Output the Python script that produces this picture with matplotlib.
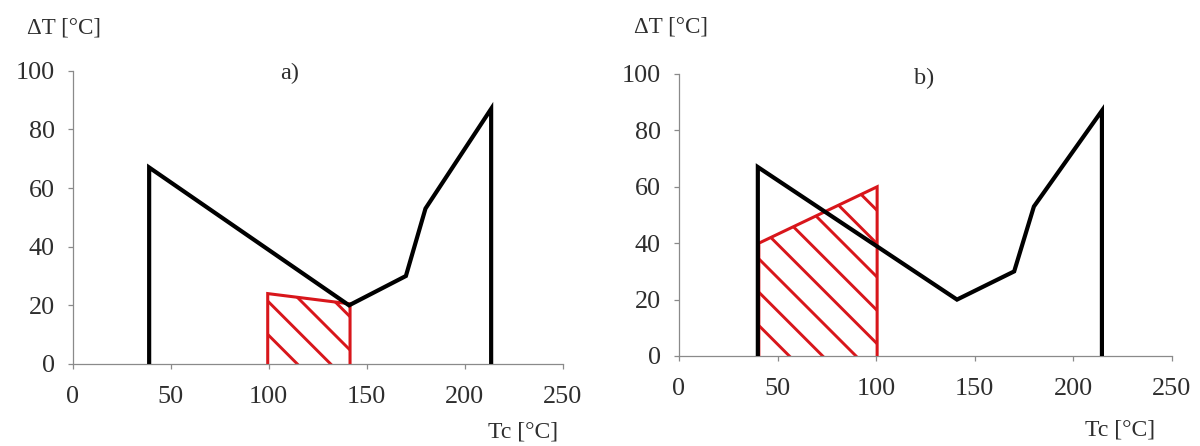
import matplotlib
matplotlib.use("Agg")
import matplotlib.pyplot as plt

# ---- data ----
tc_curve_a = [39, 39, 141, 170, 180, 213.5, 213.5]
dt_curve_a = [0, 67, 20, 30, 53, 87, 0]
tc_curve_b = [40, 40, 141, 170, 180, 214.5, 214.5]
dt_curve_b = [0, 67, 20, 30, 53, 87, 0]

tc_red_a = [99.5, 99.5, 141.5, 141.5]
dt_red_a = [0, 24, 20.5, 0]
tc_red_b = [40.5, 40.5, 100.5, 100.5]
dt_red_b = [0, 40, 60, 0]

x_ticks = [0, 50, 100, 150, 200, 250]
y_ticks = [0, 20, 40, 60, 80, 100]
panel_titles = ["a)", "b)"]
y_label = "ΔT [°C]"
x_label = "Tc [°C]"

# ---- style ----
FONT = "Liberation Serif"
plt.rcParams["font.family"] = [FONT, "DejaVu Serif"]
plt.rcParams["hatch.linewidth"] = 1.05
RED = "#d8161b"
TXT = "#2e2e2e"
AXC = "#8a8a8a"

fig = plt.figure(figsize=(6, 2.23), dpi=200)
ax1 = fig.add_axes([0.0606, 0.1839, 0.4083, 0.6576])
ax2 = fig.add_axes([0.5658, 0.2018, 0.4108, 0.6323])

def style(ax):
    ax.set_xlim(0, 250)
    ax.set_ylim(0, 100)
    ax.set_xticks(x_ticks)
    ax.set_yticks(y_ticks)
    for s in ("top", "right"):
        ax.spines[s].set_visible(False)
    for s in ("left", "bottom"):
        ax.spines[s].set_color(AXC)
        ax.spines[s].set_linewidth(0.45)
    ax.tick_params(axis="both", direction="out", length=1.9, width=0.45,
                   color=AXC, labelcolor=TXT, labelsize=9.4)
    ax.tick_params(axis="y", pad=4.6)
    ax.tick_params(axis="x", pad=6.2)
    ax.patch.set_alpha(0)

for ax, tx, ty, rx, ry in ((ax1, tc_curve_a, dt_curve_a, tc_red_a, dt_red_a),
                           (ax2, tc_curve_b, dt_curve_b, tc_red_b, dt_red_b)):
    style(ax)
    ax.fill(rx, ry, facecolor="none", edgecolor=RED, hatch="\\\\", linewidth=0, zorder=2)
    ax.plot(rx, ry, color=RED, lw=1.1, solid_joinstyle="miter",
            solid_capstyle="butt", zorder=3, clip_on=False)
    ax.plot(tx, ty, color="black", lw=1.5, solid_joinstyle="miter",
            solid_capstyle="butt", zorder=4, clip_on=False)

# panel titles
fig.text(0.2417, 0.836, panel_titles[0], ha="center", va="center", fontsize=8.8, color=TXT)
fig.text(0.7700, 0.823, panel_titles[1], ha="center", va="center", fontsize=8.8, color=TXT)

# axis labels
fig.text(0.0225, 0.937, y_label, ha="left", va="center", fontsize=8.3, color=TXT)
fig.text(0.5283, 0.939, y_label, ha="left", va="center", fontsize=8.3, color=TXT)
fig.text(0.465, 0.031, x_label, ha="right", va="center", fontsize=8.5, color=TXT)
fig.text(0.9625, 0.036, x_label, ha="right", va="center", fontsize=8.5, color=TXT)

fig.savefig("out.png", dpi=200, facecolor="white")
